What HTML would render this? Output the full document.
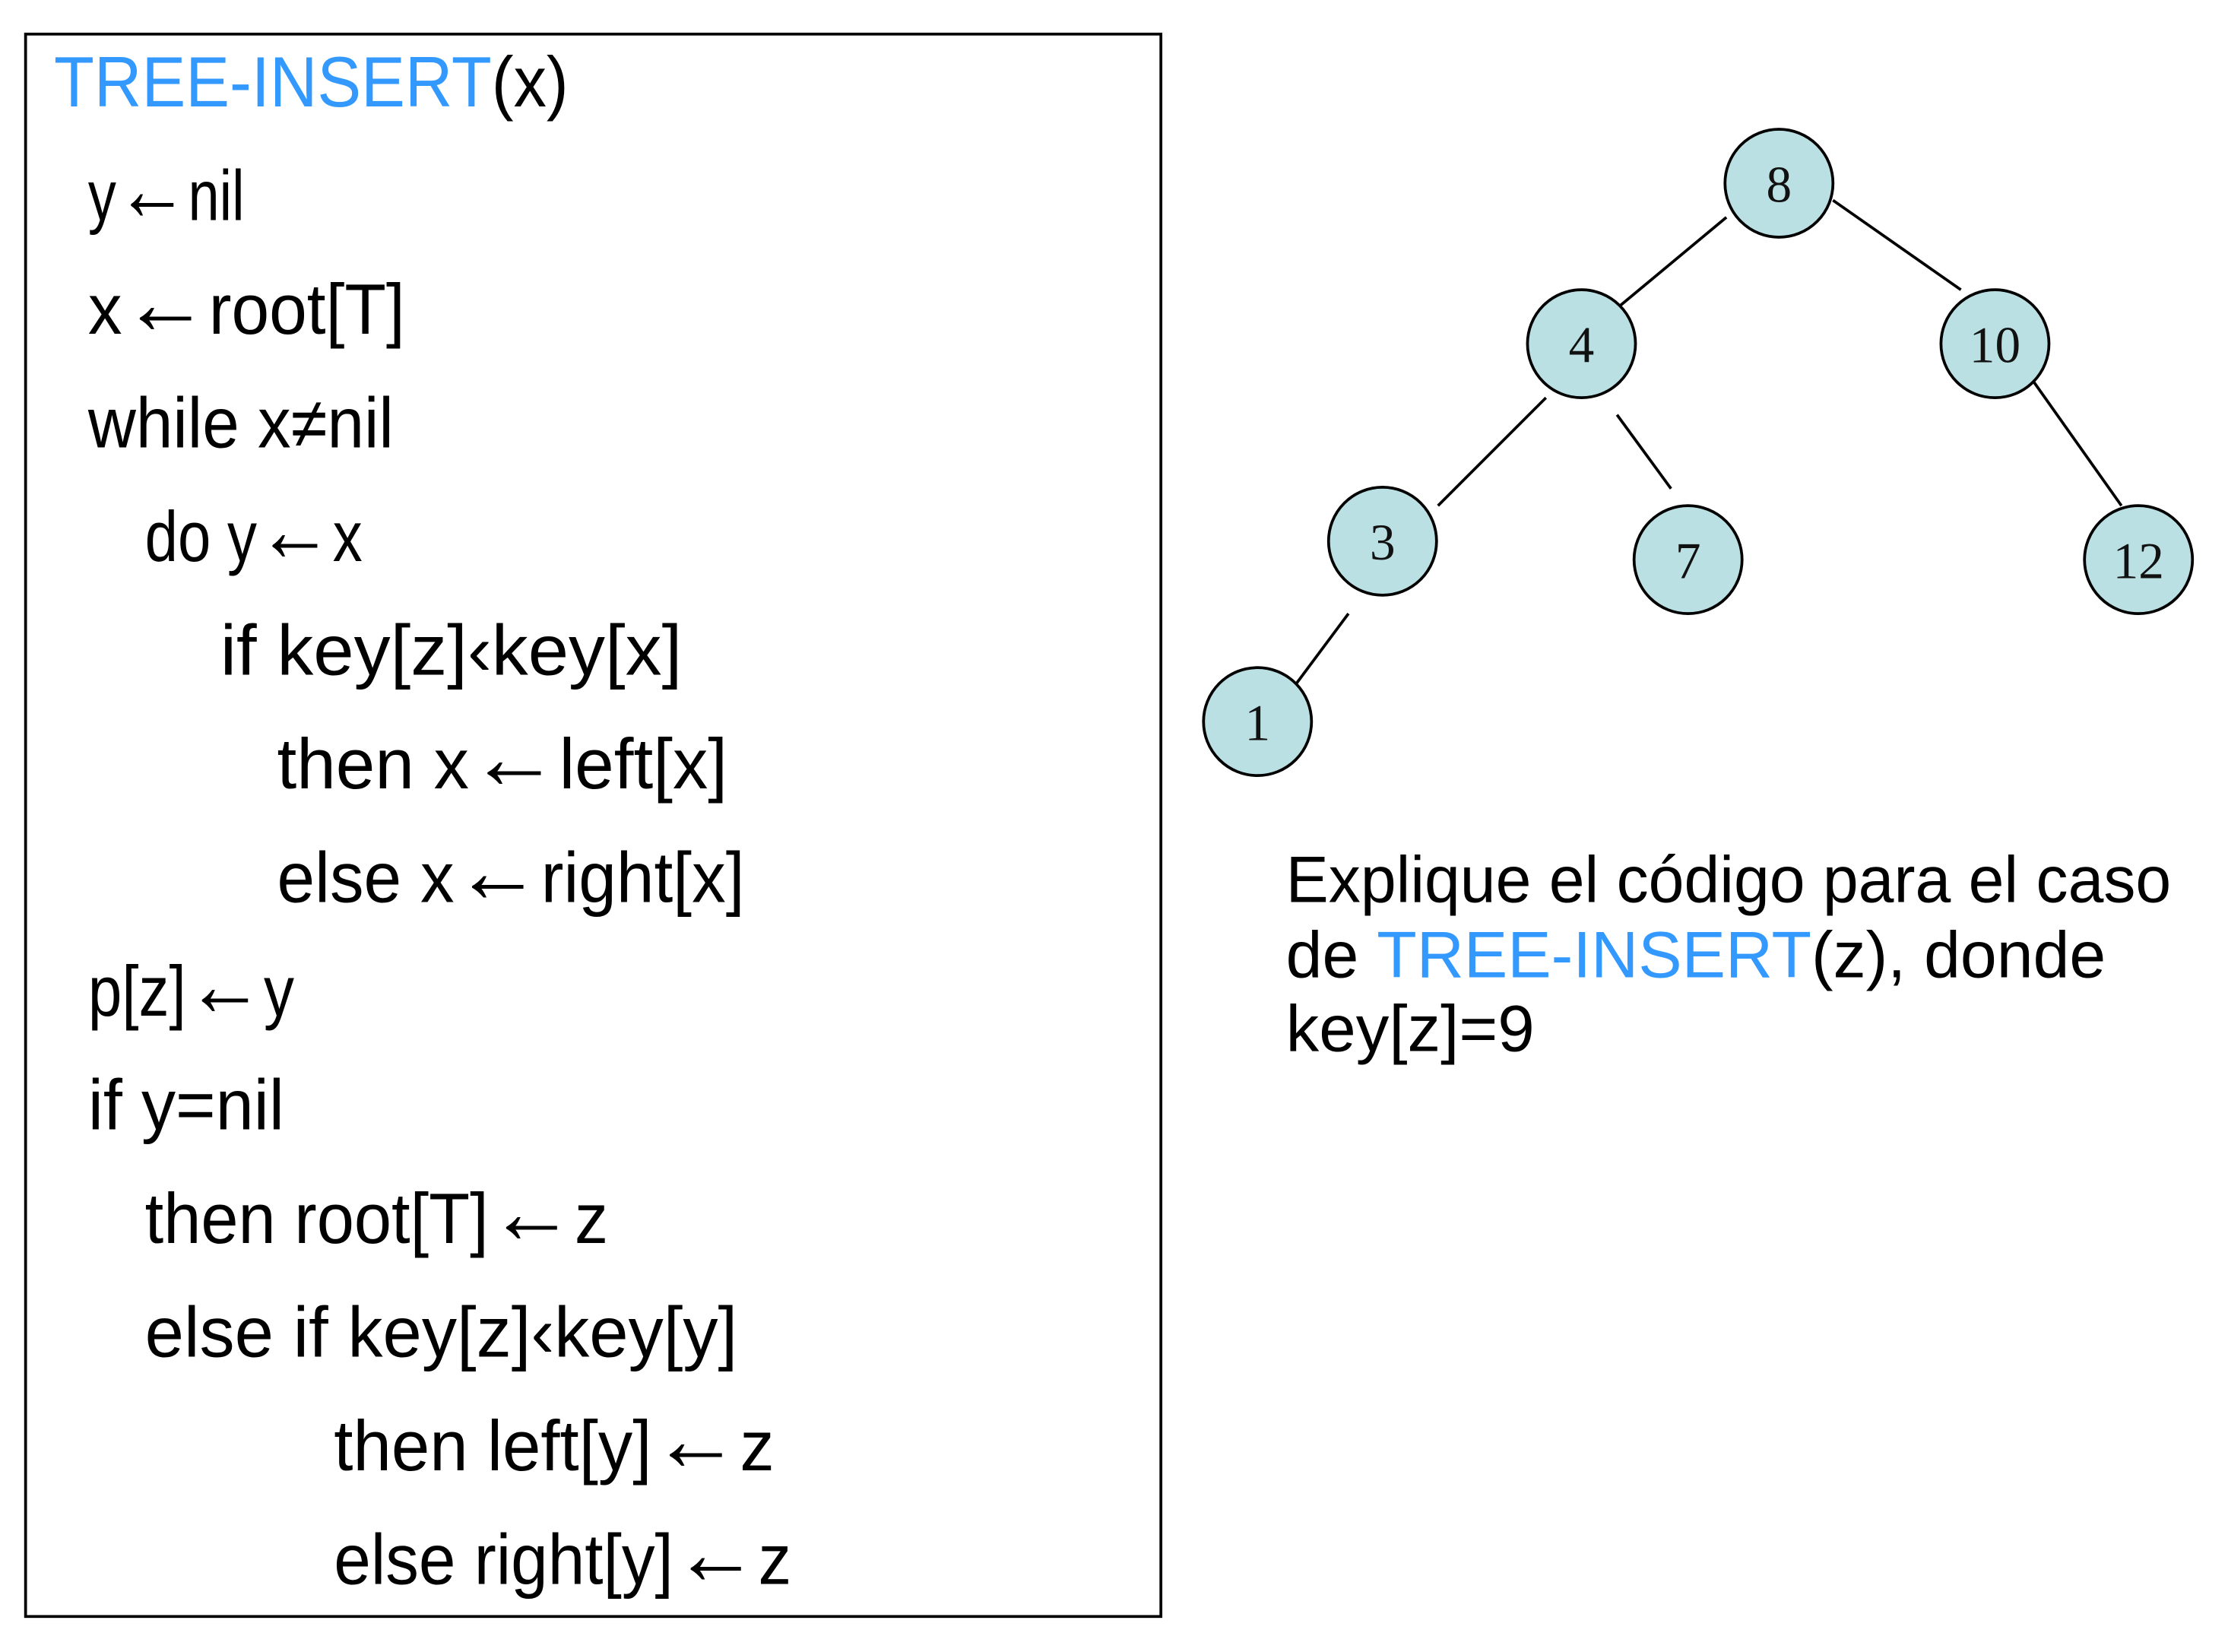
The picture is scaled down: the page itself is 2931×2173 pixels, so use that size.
<!DOCTYPE html>
<html><head><meta charset="utf-8"><style>
html,body{margin:0;padding:0;background:#fff;}
svg{display:block;}
.c{font-family:"Liberation Sans",sans-serif;font-size:50px;fill:#000;}
.b{fill:#3399ff;}
.a{font-size:64px;font-weight:bold;}
.n{font-family:"Liberation Serif",serif;font-size:36px;fill:#111;text-anchor:middle;}
.r{font-family:"Liberation Sans",sans-serif;font-size:46px;fill:#000;}
</style></head><body>
<svg width="2931" height="2173" viewBox="0 0 1568 1163" preserveAspectRatio="none" xmlns="http://www.w3.org/2000/svg">
<rect x="18" y="24" width="799" height="1114" fill="#fff" stroke="#000" stroke-width="2"/>
<text class="c" x="38" y="75" textLength="362" lengthAdjust="spacingAndGlyphs"><tspan class="b">TREE-INSERT</tspan>(x)</text>
<text class="c" x="62" y="155" textLength="110" lengthAdjust="spacingAndGlyphs">y<tspan class="a">←</tspan>nil</text>
<text class="c" x="62" y="235" textLength="223" lengthAdjust="spacingAndGlyphs">x<tspan class="a">←</tspan>root[T]</text>
<text class="c" x="62" y="315" textLength="215" lengthAdjust="spacingAndGlyphs">while x≠nil</text>
<text class="c" x="102" y="395" textLength="153" lengthAdjust="spacingAndGlyphs">do y<tspan class="a">←</tspan>x</text>
<text class="c" x="155" y="475" textLength="325" lengthAdjust="spacingAndGlyphs">if key[z]‹key[x]</text>
<text class="c" x="195" y="555" textLength="317" lengthAdjust="spacingAndGlyphs">then x<tspan class="a">←</tspan>left[x]</text>
<text class="c" x="195" y="635" textLength="329" lengthAdjust="spacingAndGlyphs">else x<tspan class="a">←</tspan>right[x]</text>
<text class="c" x="62" y="715" textLength="145" lengthAdjust="spacingAndGlyphs">p[z]<tspan class="a">←</tspan>y</text>
<text class="c" x="62" y="795" textLength="138" lengthAdjust="spacingAndGlyphs">if y=nil</text>
<text class="c" x="102" y="875" textLength="326" lengthAdjust="spacingAndGlyphs">then root[T]<tspan class="a">←</tspan>z</text>
<text class="c" x="102" y="955" textLength="417" lengthAdjust="spacingAndGlyphs">else if key[z]‹key[y]</text>
<text class="c" x="235" y="1035" textLength="310" lengthAdjust="spacingAndGlyphs">then left[y]<tspan class="a">←</tspan>z</text>
<text class="c" x="235" y="1115" textLength="322" lengthAdjust="spacingAndGlyphs">else right[y]<tspan class="a">←</tspan>z</text>

<g stroke="#000" stroke-width="2">
<line x1="1215" y1="153" x2="1138" y2="217"/>
<line x1="1290" y1="141" x2="1380" y2="204"/>
<line x1="1088" y1="280" x2="1012" y2="356"/>
<line x1="1138" y1="292" x2="1176" y2="344"/>
<line x1="1430" y1="267" x2="1493" y2="356"/>
<line x1="949" y1="432" x2="911" y2="483"/>
</g>
<g fill="#bbe0e3" stroke="#000" stroke-width="2">
<circle cx="1252" cy="129" r="38"/>
<circle cx="1113" cy="242" r="38"/>
<circle cx="1404" cy="242" r="38"/>
<circle cx="973" cy="381" r="38"/>
<circle cx="1188" cy="394" r="38"/>
<circle cx="1505" cy="394" r="38"/>
<circle cx="885" cy="508" r="38"/>
</g>
<text class="n" x="1252" y="142">8</text>
<text class="n" x="1113" y="255">4</text>
<text class="n" x="1404" y="255">10</text>
<text class="n" x="973" y="394">3</text>
<text class="n" x="1188" y="407">7</text>
<text class="n" x="1505" y="407">12</text>
<text class="n" x="885" y="521">1</text>

<text class="r" x="905" y="635" textLength="623" lengthAdjust="spacingAndGlyphs">Explique el código para el caso</text>
<text class="r" x="905" y="688" textLength="577" lengthAdjust="spacingAndGlyphs">de <tspan class="b">TREE-INSERT</tspan>(z), donde</text>
<text class="r" x="905" y="740" textLength="175" lengthAdjust="spacingAndGlyphs">key[z]=9</text>
</svg>
</body></html>
